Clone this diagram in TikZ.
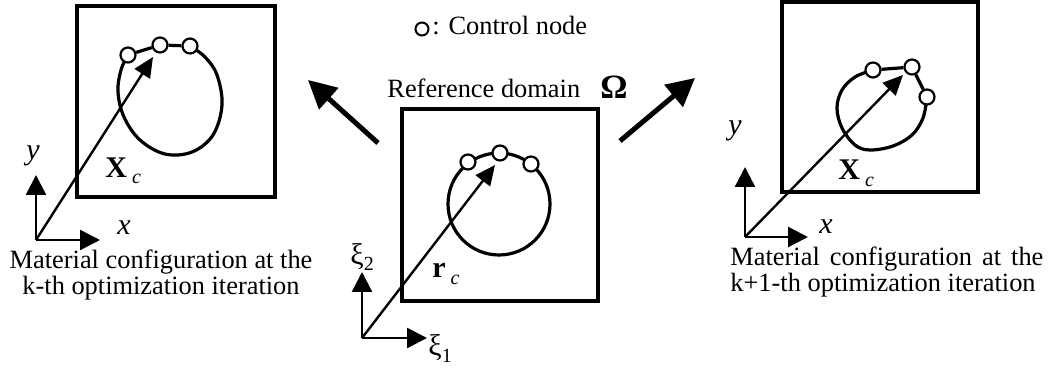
\documentclass[tikz,border=0pt]{standalone}
\usepackage{fontspec}
\setmainfont{Liberation Serif}
\usetikzlibrary{arrows.meta}

\newcommand{\lowsub}[1]{\raisebox{-0.45ex}{\fontsize{10}{10}\selectfont #1}}

\tikzset{
  frame/.style={draw, line width=1.7pt},
  loopline/.style={line width=1.6pt},
  ctrl/.style={circle, draw, fill=white, line width=1.1pt, minimum size=7.5pt, inner sep=0pt},
  axis/.style={line width=1.2pt, -{Triangle[length=10pt,width=10pt]}},
  posvec/.style={line width=1.2pt, -{Triangle[length=10pt,width=9pt]}},
  bigarrow/.style={line width=2.5pt, -{Triangle[length=14pt,width=14pt]}},
  lbl/.style={font=\fontsize{13.2}{12.8}\selectfont, inner sep=0pt},
  sym/.style={font=\fontsize{15}{15}\selectfont, inner sep=0pt},
}

\begin{document}
\begin{tikzpicture}[x=0.5pt, y=-0.5pt]
  \useasboundingbox (0,0) rectangle (1051,369);

  % legend
  \node[ctrl, minimum size=6.5pt, line width=1pt] (legc) at (422,29) {};
  \node[lbl, anchor=base west] (legt) at (432,35) {: Control node};

  % reference domain
  \node[lbl, anchor=base west] (reft) at (387,98) {Reference domain};
  \node[sym, font=\fontsize{17}{17}\selectfont, anchor=base west] (omega) at (600,99) {\textbf{Ω}};
  \draw[frame] (402,109) rectangle (598,301);
  \draw[loopline] (499,204) circle (51);
  \node[ctrl] (ref1) at (468,162) {};
  \node[ctrl] (ref2) at (500,153) {};
  \node[ctrl] (ref3) at (531,164) {};
  \coordinate (refo) at (362,338);
  \coordinate (refx) at (427,338);
  \coordinate (refy) at (362,272);
  \coordinate (refr) at (495,165);
  \draw[axis] (refo) -- (refx);
  \draw[axis] (refo) -- (refy);
  \draw[posvec] (refo) -- (refr);
  \node[sym, anchor=base west] (xi2) at (350,264) {ξ\lowsub{2}};
  \node[sym, anchor=base west] (xi1) at (428,356) {ξ\lowsub{1}};
  \node[sym, anchor=base west] (rc) at (432,278) {\textbf{r}\,\lowsub{\textit{c}}};

  % k-th configuration
  \draw[frame] (77,6) rectangle (275,197);
  \coordinate (kth1) at (128,55);
  \coordinate (kth3) at (190,46);
  \draw[loopline] plot[smooth, tension=0.6] coordinates {(128,55) (121,70) (118,92) (124,117) (140,140) (165,154) (192,152) (213,135) (222,105) (217,75) (205,57) (190,46)};
  \node[ctrl] (kthn1) at (kth1) {};
  \node[ctrl] (kthn2) at (160,45) {};
  \node[ctrl] (kthn3) at (kth3) {};
  \draw[loopline] (kthn1) -- (kthn2) -- (kthn3);
  \coordinate (ktho) at (36,240);
  \coordinate (kthx) at (100,240);
  \coordinate (kthy) at (36,175);
  \coordinate (kthr) at (153,57);
  \draw[axis] (ktho) -- (kthx);
  \draw[axis] (ktho) -- (kthy);
  \draw[posvec] (ktho) -- (kthr);
  \node[sym] (kthylbl) at (33,156) {\textit{y}};
  \node[sym] (kthxlbl) at (124,228) {\textit{x}};
  \node[sym, anchor=base west] (kthX) at (105,177) {\textbf{X}\,\lowsub{\textit{c}}};
  \node[lbl, align=center] (ktht) at (161,275) {Material configuration at the\\k-th optimization iteration};

  % k+1-th configuration
  \draw[frame] (782,2) rectangle (978,192);
  \coordinate (kone1) at (873,70);
  \coordinate (kone3) at (927,97);
  \draw[loopline] plot[smooth, tension=0.6] coordinates {(873,70) (855,77) (842,90) (837,108) (842,128) (855,145) (870,150) (893,146) (912,135) (923,118) (927,97)};
  \node[ctrl] (konen1) at (kone1) {};
  \node[ctrl] (konen2) at (912,67) {};
  \node[ctrl] (konen3) at (kone3) {};
  \draw[loopline] (konen1) -- (konen2) -- (konen3);
  \coordinate (koneo) at (745,237);
  \coordinate (konex) at (808,237);
  \coordinate (koney) at (745,167);
  \coordinate (koner) at (903,75);
  \draw[axis] (koneo) -- (konex);
  \draw[axis] (koneo) -- (koney);
  \draw[posvec] (koneo) -- (koner);
  \node[sym] (koneylbl) at (735,131) {\textit{y}};
  \node[sym] (konexlbl) at (826,227) {\textit{x}};
  \node[sym, anchor=base west] (koneX) at (838,180) {\textbf{X}\,\lowsub{\textit{c}}};
  \node[lbl, align=justify, text width=156.5pt, anchor=west] (konet) at (730,272) {Material configuration at the k+1-th optimization iteration};

  % mappings
  \coordinate (lefttail) at (378,143);
  \coordinate (lefttip) at (308,80);
  \coordinate (righttail) at (620,141);
  \coordinate (righttip) at (695,78);
  \draw[bigarrow] (lefttail) -- (lefttip);
  \draw[bigarrow] (righttail) -- (righttip);
\end{tikzpicture}
\end{document}
